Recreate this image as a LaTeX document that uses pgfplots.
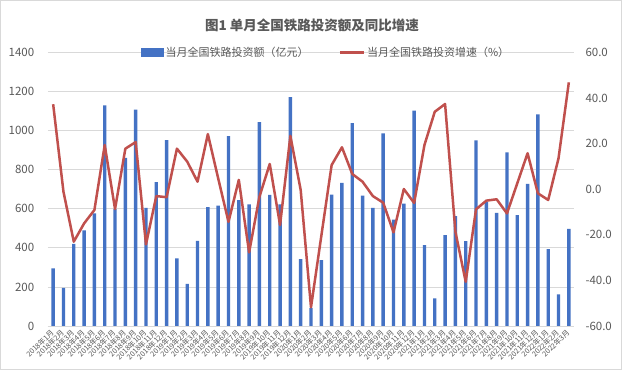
\documentclass[border=0pt]{standalone}
\usepackage{fontspec}
\setmainfont{Noto Sans CJK SC}
\usepackage{pgfplots}
\usepackage{pgfplotstable}
\pgfplotsset{compat=1.18}
\definecolor{barblue}{HTML}{4472C4}
\definecolor{linered}{HTML}{C0504D}
\definecolor{txtgray}{HTML}{595959}
\definecolor{gridgray}{HTML}{D9D9D9}

\pgfplotstableread{
idx lab inv rate
0 2018年1月 295 37.3
1 2018年2月 195 -1.1
2 2018年3月 420 -23.0
3 2018年4月 489 -15.0
4 2018年5月 577 -9.1
5 2018年6月 1129 19.4
6 2018年7月 598 -8.7
7 2018年8月 860 17.8
8 2018年9月 1107 20.7
9 2018年10月 605 -24.2
10 2018年11月 737 -3.0
11 2018年12月 952 -3.5
12 2019年1月 346 17.8
13 2019年2月 216 12.1
14 2019年3月 436 3.3
15 2019年4月 608 24.2
16 2019年5月 616 4.8
17 2019年6月 972 -14.3
18 2019年7月 644 4.1
19 2019年8月 623 -27.7
20 2019年9月 1044 -3.3
21 2019年10月 671 11.1
22 2019年11月 623 -15.7
23 2019年12月 1172 23.4
24 2020年1月 342 -0.3
25 2020年2月 92 -51.8
26 2020年3月 337 -20.5
27 2020年4月 673 10.6
28 2020年5月 732 18.4
29 2020年6月 1039 6.7
30 2020年7月 668 3.3
31 2020年8月 605 -3.0
32 2020年9月 986 -5.9
33 2020年10月 545 -18.9
34 2020年11月 627 0.1
35 2020年12月 1102 -6.0
36 2021年1月 414 19.4
37 2021年2月 141 34.0
38 2021年3月 465 37.4
39 2021年4月 562 -18.6
40 2021年5月 434 -40.6
41 2021年6月 950 -8.8
42 2021年7月 635 -5.0
43 2021年8月 579 -4.4
44 2021年9月 889 -10.6
45 2021年10月 567 2.6
46 2021年11月 727 15.8
47 2021年12月 1083 -1.8
48 2022年1月 393 -4.7
49 2022年2月 162 13.6
50 2022年3月 497 46.9
}\data

\begin{document}
\begin{tikzpicture}
\useasboundingbox (0bp,0bp) rectangle (622bp,370bp);
\fill[white] (0bp,0bp) rectangle (622bp,370bp);
\draw[gridgray, line width=0.75bp] (0.5bp,0.5bp) rectangle (621.5bp,369.5bp);
\node[font=\fontsize{13.5bp}{16bp}\selectfont\bfseries, text=txtgray] at (312bp,345bp) {图1 单月全国铁路投资额及同比增速};

\begin{axis}[
  at={(48bp,44bp)}, anchor=south west,
  scale only axis, width=526bp, height=273.5bp,
  xmin=-0.5, xmax=50.5, ymin=0, ymax=1400,
  axis x line*=bottom, axis y line*=left,
  y axis line style={draw=none},
  x axis line style={gridgray, line width=0.75bp},
  ytick={0,200,...,1400},
  ytick style={draw=none},
  ymajorgrids, grid style={gridgray, line width=0.75bp},
  xtick={0,...,50},
  xticklabels from table={\data}{lab},
  xtick style={draw=none},
  minor xtick={-0.5,0.5,...,50.5},
  minor x tick style={gridgray, line width=0.75bp},
  minor tick length=4bp,
  tick align=outside,
  x tick label style={rotate=45, anchor=east, font=\fontsize{7.3bp}{8bp}\selectfont, text=txtgray, inner sep=1bp},
  y tick label style={font=\fontsize{11.5bp}{13bp}\selectfont, text=txtgray, xshift=-6bp},
  /pgf/number format/assume math mode=true,
  /pgf/number format/1000 sep={},
  ybar, bar width=3.4bp,
]
\addplot[fill=barblue, draw=none] table[x=idx,y=inv]{\data};
\end{axis}

\begin{axis}[
  at={(48bp,44bp)}, anchor=south west,
  scale only axis, width=526bp, height=273.5bp,
  xmin=-0.5, xmax=50.5, ymin=-60, ymax=60,
  axis y line*=right, hide x axis,
  y axis line style={draw=none},
  ytick={-60,-40,...,60},
  ytick style={draw=none},
  yticklabel={\pgfmathprintnumber[fixed,fixed zerofill,precision=1,assume math mode=true]{\tick}},
  y tick label style={font=\fontsize{11.5bp}{13bp}\selectfont, text=txtgray, xshift=8bp},
  legend columns=2,
  legend style={draw=none, fill=none, at={(0.1768,1)}, anchor=west, inner xsep=0pt,
    font=\fontsize{11bp}{13bp}\selectfont, text=txtgray,
    /tikz/every even column/.append style={column sep=28bp}},
]
\addlegendimage{legend image code/.code={\fill[barblue] (0bp,-4bp) rectangle (22bp,4bp);}}
\addlegendentry{当月全国铁路投资额（亿元）}
\addplot[linered, line width=2.5bp, mark=none, line join=round,
  legend image code/.code={\draw[linered, line width=2.5bp] (0bp,0bp) -- (24bp,0bp);}]
  table[x=idx,y=rate]{\data};
\addlegendentry{当月全国铁路投资增速（\%）}
\end{axis}
\end{tikzpicture}
\end{document}
